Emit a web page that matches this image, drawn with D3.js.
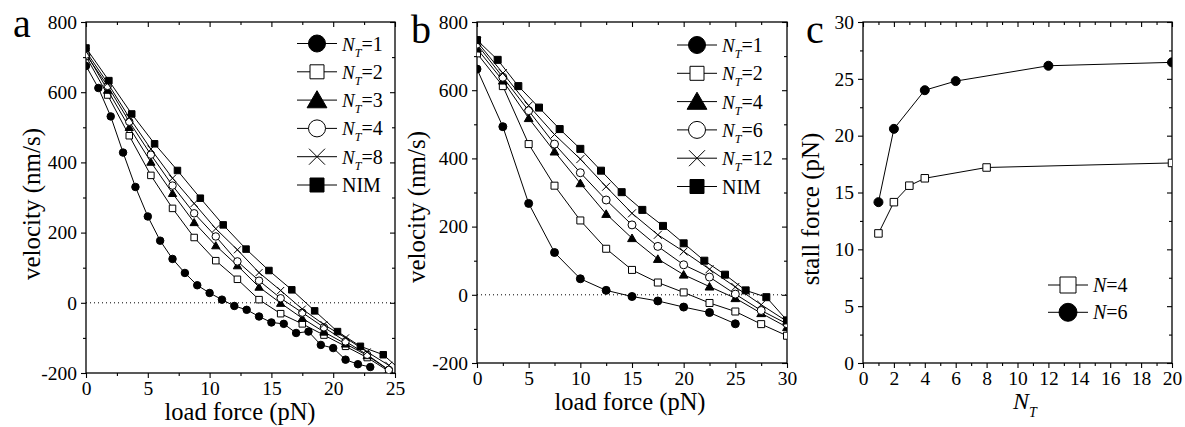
<!DOCTYPE html>
<html><head><meta charset="utf-8">
<script src="https://cdn.jsdelivr.net/npm/d3@7"></script>
<style>
body{margin:0;background:#fff}
svg{display:block}
text{font-family:"Liberation Serif","Times New Roman",serif;fill:#000}
</style>
</head><body><svg id="chart" width="1185" height="427"></svg>
<script>
// ---------------- Panel a data (load force pN -> velocity nm/s) ----------------
const forceA_NT1 = [0,1,2,3,4,5,6,7,8,9,10,11,12,13,14,15,16,17,18,19,20,21,22,23];
const velA_NT1   = [675,612,531,428,330,246,177,125,85,50,28,9,-9,-20,-39,-56,-60,-86,-82,-120,-129,-162,-175,-183];
const forceA_step = [0,1.75,3.5,5.25,7,8.75,10.5,12.25,14,15.75,17.5,19.25,21,22.75,24.5];
const velA_NT2   = [702,592,476,363,269,186,120,67,9,-31,-60,-92,-124,-156,-195];
const velA_NT3   = [712,606,500,401,312,229,163,106,45,-1,-44,-83,-117,-150,-192];
const velA_NT4   = [707,618,516,422,334,255,189,118,63,13,-28,-70,-110,-148,-191];
const velA_NT8   = [716,626,528,438,355,283,211,151,86,35,-18,-62,-100,-140,-178];
const forceA_NIM = [0,1.85,3.7,5.55,7.4,9.25,11.1,12.95,14.8,16.65,18.5,20.35,22.2,24.05,25.9];
const velA_NIM   = [726,633,538,453,377,298,222,153,92,37,-23,-82,-124,-148,-205];
const legendA    = ["1","2","3","4","8","NIM"];

// ---------------- Panel b data ----------------
const forceB_NT1 = [0,2.5,5,7.5,10,12.5,15,17.5,20,22.5,25];
const velB_NT1   = [662,493,268,124,47,13,-5,-18,-36,-52,-85];
const forceB_step = [0,2.5,5,7.5,10,12.5,15,17.5,20,22.5,25,27.5,30];
const velB_NT2   = [708,612,442,320,218,135,73,36,7,-24,-49,-86,-120];
const velB_NT4   = [722,628,518,420,327,237,166,105,59,24,-10,-54,-95];
const velB_NT6   = [735,638,540,442,358,278,205,142,88,52,2,-46,-85];
const velB_NT12  = [742,650,555,470,398,317,239,176,127,75,23,-29,-78];
const forceB_NIM = [0,2,4,6,8,10,12,14,16,18,20,22,24,26,28,30];
const velB_NIM   = [747,689,612,549,486,428,364,301,249,202,151,100,59,13,-7,-75];
const legendB    = ["1","2","4","6","12","NIM"];

// ---------------- Panel c data (N_T -> stall force pN) ----------------
const ntC_N4    = [1,2,3,4,8,20];
const stallC_N4 = [11.4,14.15,15.6,16.25,17.2,17.6];
const ntC_N6    = [1,2,4,6,12,20];
const stallC_N6 = [14.15,20.6,24.0,24.8,26.15,26.45];
const legendC   = ["4","6"];

// tick values
const ticksVelMajor = [-200,0,200,400,600,800];
const ticksVelMinor = [-100,100,300,500,700];
const ticksA_xMajor = [0,5,10,15,20,25];
const ticksA_xMinor = [2.5,7.5,12.5,17.5,22.5];
const ticksB_xMajor = [0,5,10,15,20,25,30];
const ticksB_xMinor = [2.5,7.5,12.5,17.5,22.5,27.5];
const ticksC_yMajor = [0,5,10,15,20,25,30];
const ticksC_yMinor = [2.5,7.5,12.5,17.5,22.5,27.5];
const ticksC_xMajor = [0,2,4,6,8,10,12,14,16,18,20];
const ticksC_xMinor = [1,3,5,7,9,11,13,15,17,19];

const svg = d3.select("#chart");
const FONT = "'Liberation Serif','Times New Roman',serif";

function markerPath(type, s){
  const h = s/2;
  switch(type){
    case "circle": return d3.symbol().type(d3.symbolCircle).size(Math.PI*h*h)();
    case "square": return `M${-h},${-h}H${h}V${h}H${-h}Z`;
    case "triangle": { const w = s*1.1/2, t = s*0.95; return `M0,${-t*0.55}L${w},${t*0.45}L${-w},${t*0.45}Z`; }
    case "cross": return `M${-h},${-h}L${h},${h}M${-h},${h}L${h},${-h}`;
  }
}
function drawMarker(g, kind, cx, cy, s){
  const [type, fill] = kind;
  g.append("path").attr("d", markerPath(type, s))
    .attr("transform", `translate(${cx},${cy})`)
    .attr("fill", type==="cross" ? "none" : (fill ? "#000" : "#fff"))
    .attr("stroke", "#000").attr("stroke-width", 1);
}

const K = {
  circF: ["circle", true], sqO: ["square", false], triF: ["triangle", true],
  circO: ["circle", false], cross: ["cross", false], sqF: ["square", true]
};

function panel(cfg){
  const x = d3.scaleLinear().domain(cfg.xDom).range([cfg.L, cfg.R]);
  const y = d3.scaleLinear().domain(cfg.yDom).range([cfg.B, cfg.T]);
  const g = svg.append("g");
  const clipId = "clip"+cfg.id;
  svg.append("defs").append("clipPath").attr("id", clipId)
    .append("rect").attr("x", cfg.L).attr("y", cfg.T).attr("width", cfg.R-cfg.L).attr("height", cfg.B-cfg.T);

  function styleAxis(a){
    a.select(".domain").remove();
    a.selectAll("line").attr("stroke","#000").attr("stroke-width",1.1);
    a.attr("font-family", FONT).attr("font-size", "19.5px");
    a.selectAll("text").attr("fill","#000");
  }
  let a;
  a = g.append("g").attr("transform",`translate(0,${cfg.B})`)
    .call(d3.axisBottom(x).tickValues(cfg.xMajor).tickSize(5).tickSizeOuter(0).tickPadding(3).tickFormat(d3.format("d")));
  styleAxis(a);
  a = g.append("g").attr("transform",`translate(0,${cfg.B})`)
    .call(d3.axisBottom(x).tickValues(cfg.xMinor).tickSize(3).tickSizeOuter(0).tickFormat(""));
  styleAxis(a);
  a = g.append("g").attr("transform",`translate(0,${cfg.T})`)
    .call(d3.axisTop(x).tickValues(cfg.xMajor).tickSize(-5).tickSizeOuter(0).tickFormat(""));
  styleAxis(a);
  a = g.append("g").attr("transform",`translate(0,${cfg.T})`)
    .call(d3.axisTop(x).tickValues(cfg.xMinor).tickSize(-3).tickSizeOuter(0).tickFormat(""));
  styleAxis(a);
  a = g.append("g").attr("transform",`translate(${cfg.L},0)`)
    .call(d3.axisLeft(y).tickValues(cfg.yMajor).tickSize(5).tickSizeOuter(0).tickPadding(4).tickFormat(d => String(d)));
  styleAxis(a);
  a = g.append("g").attr("transform",`translate(${cfg.L},0)`)
    .call(d3.axisLeft(y).tickValues(cfg.yMinor).tickSize(3).tickSizeOuter(0).tickFormat(""));
  styleAxis(a);
  a = g.append("g").attr("transform",`translate(${cfg.R},0)`)
    .call(d3.axisRight(y).tickValues(cfg.yMajor).tickSize(-5).tickSizeOuter(0).tickFormat(""));
  styleAxis(a);
  a = g.append("g").attr("transform",`translate(${cfg.R},0)`)
    .call(d3.axisRight(y).tickValues(cfg.yMinor).tickSize(-3).tickSizeOuter(0).tickFormat(""));
  styleAxis(a);

  g.append("rect").attr("x",cfg.L).attr("y",cfg.T).attr("width",cfg.R-cfg.L).attr("height",cfg.B-cfg.T)
    .attr("fill","none").attr("stroke","#000").attr("stroke-width",1.3);

  if (cfg.zero){
    g.append("line").attr("x1",cfg.L).attr("x2",cfg.R).attr("y1",y(0)).attr("y2",y(0))
      .attr("stroke","#000").attr("stroke-width",1).attr("stroke-dasharray","1,3");
  }

  const dg = g.append("g").attr("clip-path",`url(#${clipId})`);
  const line = d3.line().x(d=>x(d[0])).y(d=>y(d[1]));
  cfg.series.forEach(s=>{
    const pts = s.xs.map((v,i)=>[v, s.ys[i]]);
    dg.append("path").attr("d", line(pts)).attr("fill","none").attr("stroke","#000").attr("stroke-width",1);
    pts.forEach(p=> drawMarker(dg, s.kind, x(p[0]), y(p[1]), s.size));
  });

  const lg = g.append("g");
  cfg.legend.forEach((s,i)=>{
    const yy = cfg.legY + i*cfg.legDy;
    lg.append("line").attr("x1",cfg.legX).attr("x2",cfg.legX+40).attr("y1",yy).attr("y2",yy)
      .attr("stroke","#000").attr("stroke-width",1);
    drawMarker(lg, s.kind, cfg.legX+20, yy, s.lsize);
    const tx = cfg.legX + 45;
    const t = lg.append("text").attr("x",tx).attr("y",yy+7).attr("font-size","20px");
    if (s.label === "NIM"){
      t.text("NIM");
    } else if (cfg.plainN){
      t.append("tspan").attr("font-style","italic").text("N");
      t.append("tspan").text("=" + s.label);
    } else {
      t.append("tspan").attr("font-style","italic").attr("font-size","19px").text("N");
      t.append("tspan").attr("font-style","italic").attr("font-size","12px").attr("dy",6).text("T");
      t.append("tspan").attr("dy",-6).text("=" + s.label);
    }
  });

  g.append("text").attr("transform",`translate(${cfg.yTitleX},${cfg.yTitleY}) rotate(-90)`)
    .attr("text-anchor","middle").attr("font-size","25px").text(cfg.yTitle);
  if (cfg.xTitle){
    g.append("text").attr("x",cfg.xTitleX).attr("y",cfg.xTitleY).attr("text-anchor","middle")
      .attr("font-size","24.5px").text(cfg.xTitle);
  }
  g.append("text").attr("x",cfg.letX).attr("y",cfg.letY).attr("font-size","40px").text(cfg.letter);
  return {x,y,g};
}

panel({
  id:"a", L:86, R:395, T:22, B:373, xDom:[0,25], yDom:[-200,800],
  xMajor:ticksA_xMajor, xMinor:ticksA_xMinor, yMajor:ticksVelMajor, yMinor:ticksVelMinor,
  zero:true,
  series:[
    {xs:forceA_NT1, ys:velA_NT1, kind:K.circF, size:7.5},
    {xs:forceA_step, ys:velA_NT2, kind:K.sqO, size:6.5},
    {xs:forceA_step, ys:velA_NT3, kind:K.triF, size:7.5},
    {xs:forceA_step, ys:velA_NT4, kind:K.circO, size:7.5},
    {xs:forceA_step, ys:velA_NT8, kind:K.cross, size:7},
    {xs:forceA_NIM, ys:velA_NIM, kind:K.sqF, size:6.5}
  ],
  legend:[
    {label:legendA[0], kind:K.circF, lsize:17},
    {label:legendA[1], kind:K.sqO, lsize:14},
    {label:legendA[2], kind:K.triF, lsize:18},
    {label:legendA[3], kind:K.circO, lsize:17},
    {label:legendA[4], kind:K.cross, lsize:16},
    {label:legendA[5], kind:K.sqF, lsize:14}
  ],
  legX:297, legY:43.5, legDy:28.3,
  yTitle:"velocity (nm/s)", yTitleX:40, yTitleY:204,
  xTitle:"load force (pN)", xTitleX:240, xTitleY:420,
  letter:"a", letX:13, letY:37
});

panel({
  id:"b", L:477, R:787, T:22, B:363, xDom:[0,30], yDom:[-200,800],
  xMajor:ticksB_xMajor, xMinor:ticksB_xMinor, yMajor:ticksVelMajor, yMinor:ticksVelMinor,
  zero:true,
  series:[
    {xs:forceB_NT1, ys:velB_NT1, kind:K.circF, size:8},
    {xs:forceB_step, ys:velB_NT2, kind:K.sqO, size:7},
    {xs:forceB_step, ys:velB_NT4, kind:K.triF, size:8},
    {xs:forceB_step, ys:velB_NT6, kind:K.circO, size:8},
    {xs:forceB_step, ys:velB_NT12, kind:K.cross, size:8},
    {xs:forceB_NIM, ys:velB_NIM, kind:K.sqF, size:7}
  ],
  legend:[
    {label:legendB[0], kind:K.circF, lsize:17},
    {label:legendB[1], kind:K.sqO, lsize:14},
    {label:legendB[2], kind:K.triF, lsize:18},
    {label:legendB[3], kind:K.circO, lsize:17},
    {label:legendB[4], kind:K.cross, lsize:16},
    {label:legendB[5], kind:K.sqF, lsize:14}
  ],
  legX:677, legY:45, legDy:28.3,
  yTitle:"velocity (nm/s)", yTitleX:425, yTitleY:207,
  xTitle:"load force (pN)", xTitleX:630, xTitleY:410,
  letter:"b", letX:411, letY:43
});

const pc = panel({
  id:"c", L:863, R:1172, T:22, B:363, xDom:[0,20], yDom:[0,30],
  xMajor:ticksC_xMajor, xMinor:ticksC_xMinor, yMajor:ticksC_yMajor, yMinor:ticksC_yMinor,
  zero:false,
  series:[
    {xs:ntC_N4, ys:stallC_N4, kind:K.sqO, size:7.5},
    {xs:ntC_N6, ys:stallC_N6, kind:K.circF, size:9}
  ],
  legend:[
    {label:legendC[0], kind:K.sqO, lsize:16},
    {label:legendC[1], kind:K.circF, lsize:18}
  ],
  plainN:true,
  legX:1048, legY:285, legDy:27.3,
  yTitle:"stall force (pN)", yTitleX:819, yTitleY:209,
  xTitle:null,
  letter:"c", letX:806, letY:43
});
const ntTitle = pc.g.append("text").attr("x",1013).attr("y",409).attr("font-size","24px").attr("font-style","italic");
ntTitle.append("tspan").text("N");
ntTitle.append("tspan").attr("font-size","14px").attr("dy",8).text("T");
</script></body></html>
